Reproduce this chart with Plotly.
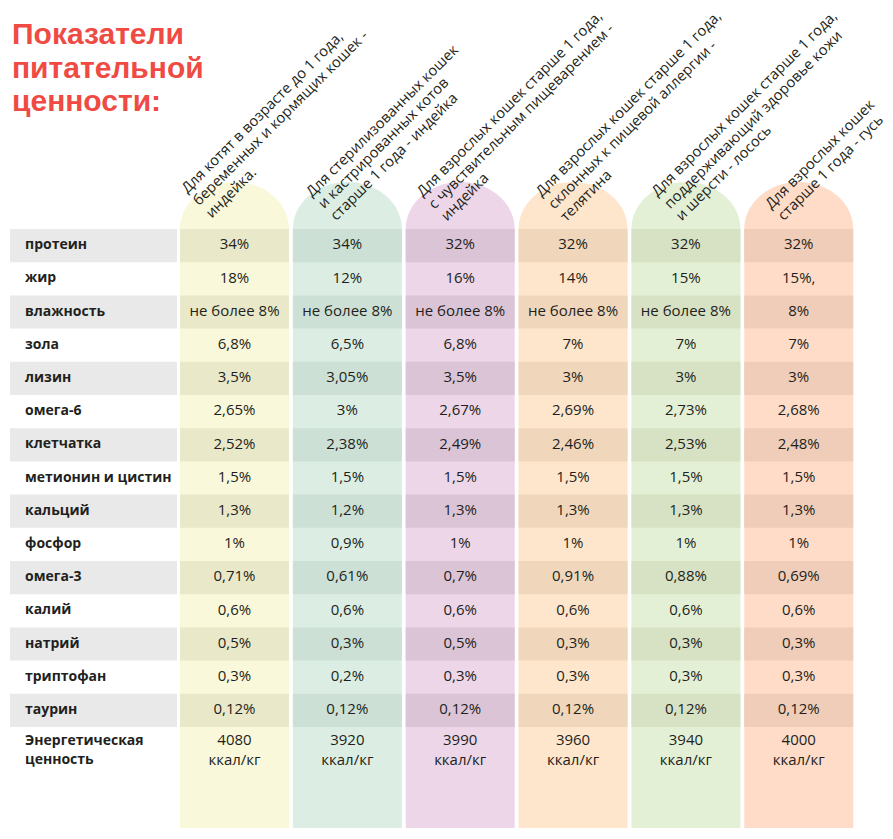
import plotly.graph_objects as go

# ---------------- data ----------------
title_lines = ["Показатели", "питательной", "ценности:"]

nutrients = ["протеин", "жир", "влажность", "зола", "лизин", "омега-6", "клетчатка",
             "метионин и цистин", "кальций", "фосфор", "омега-3", "калий", "натрий",
             "триптофан", "таурин", "Энергетическая<br>ценность"]

headers = [
    ["Для котят в возрасте до 1 года,", "беременных и кормящих кошек -", "индейка."],
    ["Для стерилизованных кошек", "и кастрированных котов", "старше 1 года - индейка"],
    ["Для взрослых кошек старше 1 года,", "с чувствительным пищеварением -", "индейка"],
    ["Для взрослых кошек старше 1 года,", "склонных к пищевой аллергии -", "телятина"],
    ["Для взрослых кошек старше 1 года,", "поддерживающий здоровье кожи", "и шерсти - лосось"],
    ["Для взрослых кошек", "старше 1 года - гусь"],
]

kittens_turkey = ["34%", "18%", "не более 8%", "6,8%", "3,5%", "2,65%", "2,52%", "1,5%", "1,3%",
                  "1%", "0,71%", "0,6%", "0,5%", "0,3%", "0,12%", "4080<br>ккал/кг"]
sterilized_turkey = ["34%", "12%", "не более 8%", "6,5%", "3,05%", "3%", "2,38%", "1,5%", "1,2%",
                     "0,9%", "0,61%", "0,6%", "0,3%", "0,2%", "0,12%", "3920<br>ккал/кг"]
sensitive_turkey = ["32%", "16%", "не более 8%", "6,8%", "3,5%", "2,67%", "2,49%", "1,5%", "1,3%",
                    "1%", "0,7%", "0,6%", "0,5%", "0,3%", "0,12%", "3990<br>ккал/кг"]
allergy_veal = ["32%", "14%", "не более 8%", "7%", "3%", "2,69%", "2,46%", "1,5%", "1,3%",
                "1%", "0,91%", "0,6%", "0,3%", "0,3%", "0,12%", "3960<br>ккал/кг"]
skin_salmon = ["32%", "15%", "не более 8%", "7%", "3%", "2,73%", "2,53%", "1,5%", "1,3%",
               "1%", "0,88%", "0,6%", "0,3%", "0,3%", "0,12%", "3940<br>ккал/кг"]
adult_goose = ["32%", "15%,", "8%", "7%", "3%", "2,68%", "2,48%", "1,5%", "1,3%",
               "1%", "0,69%", "0,6%", "0,3%", "0,3%", "0,12%", "4000<br>ккал/кг"]

series = [kittens_turkey, sterilized_turkey, sensitive_turkey, allergy_veal, skin_salmon, adult_goose]

# ---------------- styles / layout constants ----------------
light_colors = ["#f9f8da", "#dceee3", "#ecd6e8", "#fee6cd", "#e4f0d5", "#fedcc8"]
band_colors = ["#e9e8c8", "#cde0d5", "#dcc4d7", "#f0d7bc", "#d7e2c4", "#efcdb8"]
gray_band = "#e8e9e8"
text_color = "#231f20"
title_color = "#ef4b44"
FONT = "Open Sans"
TITLE_FONT = "Liberation Sans"

W, H = 893, 839
X0, PITCH, COLW = 180.0, 112.85, 109.0
LABEL_X0, LABEL_X1 = 10.0, 177.0
ROW_Y0, ROW_H = 229.0, 33.2
ARCH_TOP = 182.0
COL_BOTTOM = 828.0
# where each column's header text starts (offset from column left, baseline of first line)
HEADER_DX = [5, 17, 15, 21, 24, 25]
HEADER_Y = [196, 199, 199, 199, 199, 211]
LINE_STEP = 12.2
TITLE_SIZE = 30
TITLE_LINE_GAP = 33.7

shapes = []
annotations = []

n_rows = len(nutrients)
n_cols = len(series)

# gray bands in the label column (every second row)
for r in range(n_rows):
    if r % 2 == 0 and r < n_rows - 1:
        y0 = ROW_Y0 + r * ROW_H
        shapes.append(dict(type="rect", x0=LABEL_X0, x1=LABEL_X1, y0=y0, y1=y0 + ROW_H,
                           fillcolor=gray_band, line_width=0, layer="below"))

k = 0.5523
for c in range(n_cols):
    L = X0 + c * PITCH
    R = L + COLW
    cx = (L + R) / 2
    rx = COLW / 2
    ry = ROW_Y0 - ARCH_TOP
    base = ROW_Y0
    path = (f"M{L},{COL_BOTTOM} L{L},{base} "
            f"C{L},{base - k * ry} {cx - k * rx},{ARCH_TOP} {cx},{ARCH_TOP} "
            f"C{cx + k * rx},{ARCH_TOP} {R},{base - k * ry} {R},{base} "
            f"L{R},{COL_BOTTOM} Z")
    shapes.append(dict(type="path", path=path, fillcolor=light_colors[c], line_width=0, layer="below"))
    for r in range(n_rows):
        if r % 2 == 0 and r < n_rows - 1:
            y0 = ROW_Y0 + r * ROW_H
            shapes.append(dict(type="rect", x0=L, x1=R, y0=y0, y1=y0 + ROW_H,
                               fillcolor=band_colors[c], line_width=0, layer="below"))
    # rotated header lines
    for li, line in enumerate(headers[c]):
        bx = L + HEADER_DX[c] + li * LINE_STEP
        by = HEADER_Y[c] + li * LINE_STEP
        annotations.append(dict(text=line, x=bx - 12, y=by + 4, xref="x", yref="y",
                                xanchor="left", yanchor="bottom", textangle=-45,
                                showarrow=False, font=dict(family=FONT, size=14.7, color=text_color)))

# title: single text block; base font sets the (tight) line gap, inner span sets glyph size
title_html = "<br>".join(f"<span style='font-size:{TITLE_SIZE}px'><b>{t}</b></span>" for t in title_lines)
annotations.append(dict(text=title_html, x=10, y=15, xref="x", yref="y",
                        xanchor="left", yanchor="top", align="left", showarrow=False,
                        font=dict(family=TITLE_FONT, size=TITLE_LINE_GAP / 1.3, color=title_color)))

fig = go.Figure()

def row_center(r):
    if r == n_rows - 1:
        return ROW_Y0 + r * ROW_H + 24
    return ROW_Y0 + (r + 0.5) * ROW_H

ys = [row_center(r) for r in range(n_rows)]

fig.add_trace(go.Scatter(
    x=[25] * n_rows, y=ys, text=nutrients, mode="text", textposition="middle right",
    textfont=dict(family=FONT, size=14, color=text_color, weight="bold"),
    hoverinfo="skip", showlegend=False, cliponaxis=False))

for c, vals in enumerate(series):
    cx = X0 + c * PITCH + COLW / 2
    fig.add_trace(go.Scatter(
        x=[cx] * n_rows, y=ys, text=vals, mode="text", textposition="middle center",
        textfont=dict(family=FONT, size=15, color=text_color),
        hoverinfo="skip", showlegend=False, cliponaxis=False))

fig.update_layout(
    width=W, height=H, margin=dict(l=0, r=0, t=0, b=0),
    paper_bgcolor="white", plot_bgcolor="white",
    xaxis=dict(range=[0, W], visible=False, fixedrange=True),
    yaxis=dict(range=[H, 0], visible=False, fixedrange=True),
    shapes=shapes, annotations=annotations, showlegend=False,
)

fig.write_html("out.html", config={"displayModeBar": False},
               post_script="document.body.style.margin='0';document.body.style.overflow='hidden';")
